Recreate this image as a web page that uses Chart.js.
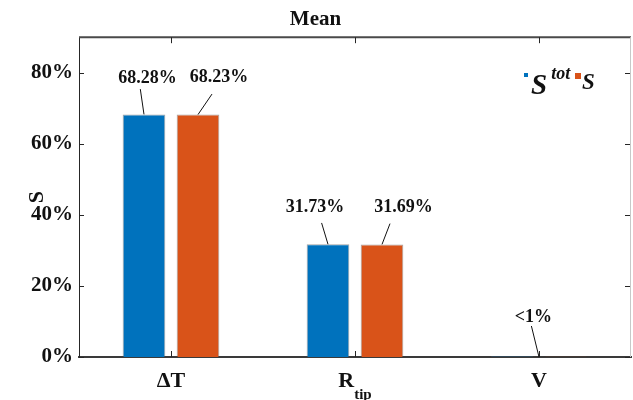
<!DOCTYPE html>
<html>
<head>
<meta charset="utf-8">
<script src="https://cdn.jsdelivr.net/npm/chart.js@4.4.1/dist/chart.umd.min.js"></script>
<style>
  html, body { margin: 0; padding: 0; background: #ffffff; }
  #wrap { width: 633px; height: 400px; position: relative; }
</style>
</head>
<body>
<div id="wrap"><canvas id="chart"></canvas></div>
<script>
// Sensitivity indices (percent) per input variable
const categories = ['ΔT', 'R_tip', 'V'];
const seriesNames = ['S^tot', 'S'];
const totalIndex = [68.28, 31.73, 0.2];
const firstIndex = [68.23, 31.69, 0.1];
const yTicks = [0, 20, 40, 60, 80];
const yMax = 90;

const SERIF = '"Liberation Serif", "Times New Roman", serif';
const INK = '#111111';
const colors = ['#0072BD', '#D95319'];

// Callout placement: text centre and leader start, relative to the mark's top-centre
const callouts = [
  { ds: 0, index: 0, tx: 3.5, ty: -36.5, lx: -3.7, ly: -25.3 },
  { ds: 1, index: 0, tx: 21, ty: -37, lx: 14, ly: -20.5 },
  { ds: 0, index: 1, tx: -13, ty: -37.3, lx: -6.4, ly: -21.3 },
  { ds: 1, index: 1, tx: 21.6, ty: -37.4, lx: 8, ly: -20.8 },
  { ds: null, index: 2, tx: -5.6, ty: -39.5, lx: -7.6, ly: -31 }
];

function formatPct(v) {
  return v < 1 ? '<1%' : v.toFixed(2) + '%';
}

// Draw "base_sub" / "base^sup" text, centred on x when asked
function drawRich(ctx, text, x, y, size, style, align) {
  let base = text, extra = '', mode = null;
  if (text.includes('_')) { [base, extra] = text.split('_'); mode = 'sub'; }
  else if (text.includes('^')) { [base, extra] = text.split('^'); mode = 'sup'; }
  const smallSize = Math.round(size * 0.68);
  ctx.font = style + ' ' + size + 'px ' + SERIF;
  const bw = ctx.measureText(base).width;
  ctx.font = style + ' ' + smallSize + 'px ' + SERIF;
  const ew = extra ? ctx.measureText(extra).width : 0;
  let x0 = x;
  if (align === 'center') x0 = x - (bw + ew) / 2;
  ctx.textAlign = 'left';
  ctx.textBaseline = 'alphabetic';
  ctx.font = style + ' ' + size + 'px ' + SERIF;
  ctx.fillText(base, x0, y);
  if (extra) {
    ctx.font = style + ' ' + smallSize + 'px ' + SERIF;
    const dy = mode === 'sub' ? size * 0.55 : -size * 0.55;
    ctx.fillText(extra, x0 + bw, y + dy);
  }
}

const framePlugin = {
  id: 'frame',
  afterDraw(chart) {
    const { ctx, chartArea: a, scales } = chart;
    ctx.save();
    // top and right box edges
    ctx.strokeStyle = '#4a4a4a';
    ctx.lineWidth = 2;
    ctx.beginPath(); ctx.moveTo(a.left, a.top); ctx.lineTo(a.right, a.top); ctx.stroke();
    ctx.strokeStyle = '#c8c8c8';
    ctx.lineWidth = 1;
    ctx.beginPath(); ctx.moveTo(a.right - 0.5, a.top); ctx.lineTo(a.right - 0.5, a.bottom); ctx.stroke();
    // inward tick marks
    ctx.strokeStyle = '#262626';
    ctx.lineWidth = 1;
    scales.y.ticks.forEach(t => {
      const y = Math.round(scales.y.getPixelForValue(t.value)) + 0.5;
      ctx.beginPath(); ctx.moveTo(a.left, y); ctx.lineTo(a.left + 5, y); ctx.stroke();
      ctx.beginPath(); ctx.moveTo(a.right - 1, y); ctx.lineTo(a.right - 6, y); ctx.stroke();
    });
    categories.forEach((c, i) => {
      const x = Math.round(scales.x.getPixelForValue(i)) + 0.5;
      ctx.beginPath(); ctx.moveTo(x, a.bottom); ctx.lineTo(x, a.bottom - 6); ctx.stroke();
      ctx.beginPath(); ctx.moveTo(x, a.top); ctx.lineTo(x, a.top + 6); ctx.stroke();
    });
    // category labels
    ctx.fillStyle = INK;
    categories.forEach((c, i) => {
      const x = scales.x.getPixelForValue(i);
      drawRich(ctx, c, x, a.bottom + 30, 22, 'bold', 'center');
    });
    // value callouts with leader lines
    ctx.strokeStyle = '#111111';
    ctx.lineWidth = 1;
    callouts.forEach(c => {
      let ax, ay, value;
      if (c.ds === null) {
        value = Math.max(totalIndex[c.index], firstIndex[c.index]);
        ax = scales.x.getPixelForValue(c.index);
        ay = scales.y.getPixelForValue(0);
      } else {
        const el = chart.getDatasetMeta(c.ds).data[c.index];
        value = chart.data.datasets[c.ds].data[c.index];
        ax = el.x; ay = el.y;
      }
      ctx.beginPath();
      ctx.moveTo(ax + c.lx, ay + c.ly);
      ctx.lineTo(ax, ay);
      ctx.stroke();
      ctx.font = 'bold 18px ' + SERIF;
      ctx.textAlign = 'center';
      ctx.textBaseline = 'middle';
      ctx.fillText(formatPct(value), ax + c.tx, ay + c.ty);
    });
    // legend
    const legend = [
      { sq: [524, 73, 4], x: 531, y: 94, size: 29 },
      { sq: [575, 73, 6], x: 582, y: 89, size: 23 }
    ];
    legend.forEach((l, i) => {
      ctx.fillStyle = colors[i];
      ctx.fillRect(l.sq[0], l.sq[1], l.sq[2], l.sq[2]);
      ctx.fillStyle = INK;
      let base = seriesNames[i], sup = '';
      if (base.includes('^')) [base, sup] = base.split('^');
      ctx.font = 'italic bold ' + l.size + 'px ' + SERIF;
      ctx.textAlign = 'left'; ctx.textBaseline = 'alphabetic';
      ctx.fillText(base, l.x, l.y);
      if (sup) {
        const w = ctx.measureText(base).width;
        ctx.font = 'italic bold 18px ' + SERIF;
        ctx.fillText(sup, l.x + w + 4, 79);
      }
    });
    ctx.restore();
  }
};

new Chart(document.getElementById('chart'), {
  type: 'bar',
  data: {
    labels: categories,
    datasets: [
      { label: seriesNames[0], data: totalIndex, backgroundColor: colors[0],
        borderColor: 'rgba(90,90,90,0.55)', borderWidth: 1 },
      { label: seriesNames[1], data: firstIndex, backgroundColor: colors[1],
        borderColor: 'rgba(90,90,90,0.55)', borderWidth: 1 }
    ]
  },
  options: {
    responsive: true,
    maintainAspectRatio: false,
    animation: false,
    devicePixelRatio: 1,
    layout: { padding: { left: 0, right: 2, top: 0, bottom: 0 } },
    datasets: { bar: { categoryPercentage: 0.587, barPercentage: 0.79 } },
    plugins: {
      legend: { display: false },
      tooltip: { enabled: false },
      title: {
        display: true, text: 'Mean', color: INK,
        font: { family: SERIF, size: 21, weight: 'bold', lineHeight: 1.2 },
        padding: { top: 7, bottom: 5 }
      }
    },
    scales: {
      x: {
        offset: true,
        grid: { display: false, drawTicks: false },
        border: { display: true, color: '#3a3a3a', width: 2 },
        ticks: { display: false },
        afterFit(scale) { scale.height = 43; }
      },
      y: {
        min: 0, max: yMax,
        grid: { display: false, drawTicks: false },
        border: { display: true, color: '#262626', width: 1 },
        afterBuildTicks(scale) { scale.ticks = yTicks.map(v => ({ value: v })); },
        ticks: {
          padding: 6, color: INK,
          font: { family: SERIF, size: 21, weight: 'bold' },
          callback: v => v + '%'
        },
        title: {
          display: true, text: 'S', color: INK,
          font: { family: SERIF, size: 22, weight: 'bold' },
          padding: { top: 24, bottom: 0 }
        },
        afterFit(scale) { scale.width = 79; }
      }
    }
  },
  plugins: [framePlugin]
});
</script>
</body>
</html>
